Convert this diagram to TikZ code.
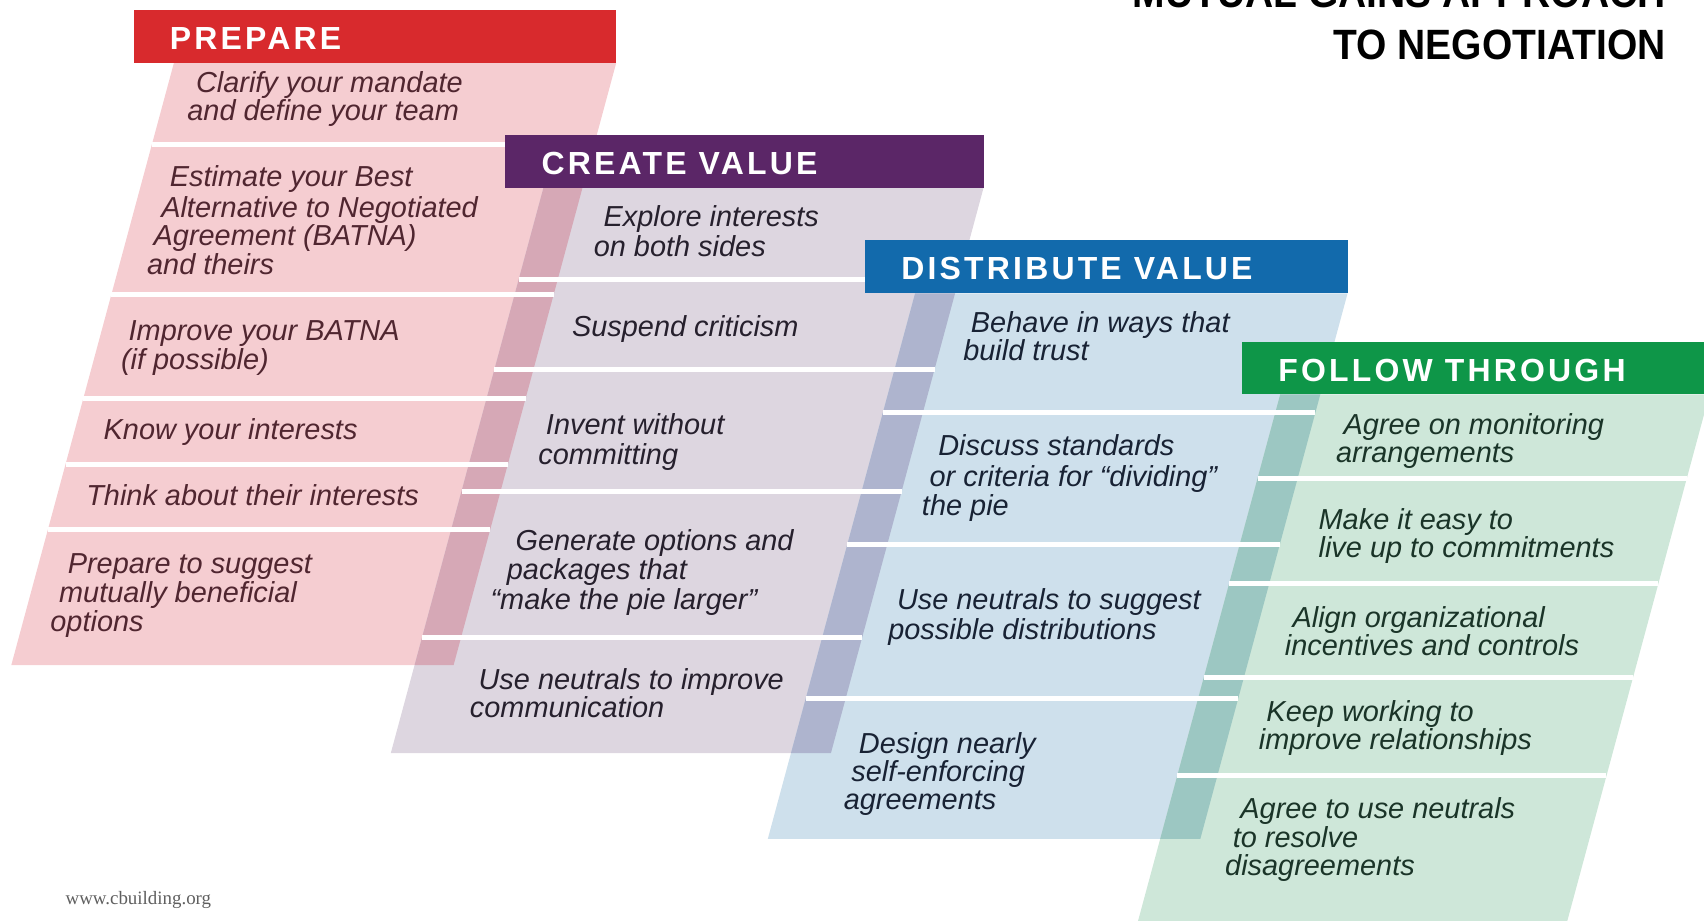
\documentclass[tikz,border=0pt]{standalone}
\usepackage{fontspec}
\setmainfont{Liberation Sans}
\newfontfamily\headfont{Liberation Sans}[LetterSpace=10]
\newfontfamily\urlfont{Liberation Serif}

% header and panel colours
\definecolor{prepHead}{RGB}{216,42,45}
\definecolor{createHead}{RGB}{91,38,103}
\definecolor{distHead}{RGB}{18,106,172}
\definecolor{followHead}{RGB}{14,150,72}
\definecolor{prepBody}{RGB}{245,205,209}
\definecolor{createBody}{RGB}{221,214,224}
\definecolor{distBody}{RGB}{206,224,236}
\definecolor{followBody}{RGB}{206,231,217}
\definecolor{prepCreate}{RGB}{214,168,182}
\definecolor{createDist}{RGB}{174,180,206}
\definecolor{distFollow}{RGB}{156,199,194}
\definecolor{prepText}{RGB}{80,38,48}
\definecolor{createText}{RGB}{38,32,45}
\definecolor{distText}{RGB}{24,34,52}
\definecolor{followText}{RGB}{26,52,40}
\definecolor{urlGrey}{RGB}{95,95,95}

% horizontal white divider across a slanted panel:
% #1 left x at top, #2 right x at top, #3 top y, #4 divider y
\newcommand\panelrule[4]{\draw[divider] ({#1-0.27*(#4-#3)},#4) -- ({#2-0.27*(#4-#3)},#4);}
% one line of step text: #1 colour, #2 name, #3 x, #4 y, #5 text
\newcommand\stepline[5]{\node[steptext,text=#1] (#2) at (#3,{#4+10}) {#5};}

\begin{document}
\begin{tikzpicture}[x=0.5pt,y=-0.5pt,
  headbar/.style={fill=#1,draw=none},
  headtext/.style={text=white,anchor=west,inner sep=0pt,
    font=\headfont\bfseries\fontsize{14.7}{16}\selectfont},
  steptext/.style={anchor=base west,inner sep=0pt,
    font=\itshape\fontsize{13.3}{13.3}\selectfont},
  divider/.style={white,line width=2.3pt}]

\useasboundingbox (0,0) rectangle (1568,847);
\clip (0,0) rectangle (1568,847);

% slanted panels
\fill[prepBody]   (160,58) -- (567,58) -- (417.4,612) -- (10.4,612) -- cycle;
\fill[createBody] (500,173) -- (905,173) -- (764.6,693) -- (359.6,693) -- cycle;
\fill[distBody]   (842,270) -- (1240,270) -- (1104.5,772) -- (706.5,772) -- cycle;
\fill[followBody] (1178,363) -- (1573,363) -- (1438.8,860) -- (1043.8,860) -- cycle;

% darker strips where neighbouring panels overlap
\begin{scope}
  \clip (160,58) -- (567,58) -- (417.4,612) -- (10.4,612) -- cycle;
  \fill[prepCreate] (500,173) -- (905,173) -- (764.6,693) -- (359.6,693) -- cycle;
\end{scope}
\begin{scope}
  \clip (500,173) -- (905,173) -- (764.6,693) -- (359.6,693) -- cycle;
  \fill[createDist] (842,270) -- (1240,270) -- (1104.5,772) -- (706.5,772) -- cycle;
\end{scope}
\begin{scope}
  \clip (842,270) -- (1240,270) -- (1104.5,772) -- (706.5,772) -- cycle;
  \fill[distFollow] (1178,363) -- (1573,363) -- (1438.8,860) -- (1043.8,860) -- cycle;
\end{scope}

% dividers between steps
\foreach \yy in {133,271,367,427,487} {\panelrule{160}{567}{58}{\yy}}
\foreach \yy in {257,340,452,587} {\panelrule{500}{905}{173}{\yy}}
\foreach \yy in {380,501,643} {\panelrule{842}{1240}{270}{\yy}}
\foreach \yy in {440,537,623,714} {\panelrule{1178}{1573}{363}{\yy}}

% phase headers
\fill[headbar=prepHead]   (123,9) rectangle (567,58);
\fill[headbar=createHead] (465,124) rectangle (905,173);
\fill[headbar=distHead]   (796,221) rectangle (1240,270);
\fill[headbar=followHead] (1143,315) rectangle (1580,363);
\node[headtext] (hprep)   at (156,35)  {PREPARE};
\node[headtext] (hcreate) at (498,150) {CREATE VALUE};
\node[headtext] (hdist)   at (829,247) {DISTRIBUTE VALUE};
\node[headtext] (hfollow) at (1176,341) {FOLLOW THROUGH};

% title
\node[anchor=base east,inner sep=0pt,font=\bfseries\fontsize{19.5}{20}\selectfont] (title1) at (1533,7)
  {\scalebox{0.92}[1]{MUTUAL GAINS APPROACH}};
\node[anchor=base east,inner sep=0pt,font=\bfseries\fontsize{19.5}{20}\selectfont] (title2) at (1533,55)
  {\scalebox{0.92}[1]{TO NEGOTIATION}};

% prepare
\stepline{prepText}{p1a}{180}{75}{Clarify your mandate}
\stepline{prepText}{p1b}{172}{101}{and define your team}
\stepline{prepText}{p2a}{156}{162}{Estimate your Best}
\stepline{prepText}{p2b}{148}{190}{Alternative to Negotiated}
\stepline{prepText}{p2c}{141}{216}{Agreement (BATNA)}
\stepline{prepText}{p2d}{135}{243}{and theirs}
\stepline{prepText}{p3a}{118}{303}{Improve your BATNA}
\stepline{prepText}{p3b}{111}{330}{(if possible)}
\stepline{prepText}{p4a}{95}{394}{Know your interests}
\stepline{prepText}{p5a}{79}{455}{Think about their interests}
\stepline{prepText}{p6a}{62}{518}{Prepare to suggest}
\stepline{prepText}{p6b}{54}{544}{mutually beneficial}
\stepline{prepText}{p6c}{46}{571}{options}

% create value
\stepline{createText}{c1a}{555}{198}{Explore interests}
\stepline{createText}{c1b}{546}{226}{on both sides}
\stepline{createText}{c2a}{526}{300}{Suspend criticism}
\stepline{createText}{c3a}{502}{390}{Invent without}
\stepline{createText}{c3b}{495}{417}{committing}
\stepline{createText}{c4a}{474}{497}{Generate options and}
\stepline{createText}{c4b}{466}{523}{packages that}
\stepline{createText}{c4c}{451}{551}{“make the pie larger”}
\stepline{createText}{c5a}{440}{624}{Use neutrals to improve}
\stepline{createText}{c5b}{432}{650}{communication}

% distribute value
\stepline{distText}{d1a}{893}{296}{Behave in ways that}
\stepline{distText}{d1b}{886}{322}{build trust}
\stepline{distText}{d2a}{863}{409}{Discuss standards}
\stepline{distText}{d2b}{855}{438}{or criteria for “dividing”}
\stepline{distText}{d2c}{848}{464}{the pie}
\stepline{distText}{d3a}{825}{551}{Use neutrals to suggest}
\stepline{distText}{d3b}{817}{578}{possible distributions}
\stepline{distText}{d4a}{790}{683}{Design nearly}
\stepline{distText}{d4b}{783}{709}{self-enforcing}
\stepline{distText}{d4c}{776}{735}{agreements}

% follow through
\stepline{followText}{f1a}{1236}{390}{Agree on monitoring}
\stepline{followText}{f1b}{1229}{416}{arrangements}
\stepline{followText}{f2a}{1213}{477}{Make it easy to}
\stepline{followText}{f2b}{1213}{503}{live up to commitments}
\stepline{followText}{f3a}{1189}{567}{Align organizational}
\stepline{followText}{f3b}{1182}{593}{incentives and controls}
\stepline{followText}{f4a}{1165}{654}{Keep working to}
\stepline{followText}{f4b}{1158}{680}{improve relationships}
\stepline{followText}{f5a}{1141}{743}{Agree to use neutrals}
\stepline{followText}{f5b}{1134}{770}{to resolve}
\stepline{followText}{f5c}{1127}{796}{disagreements}

% source line
\node[anchor=west,inner sep=0pt,text=urlGrey,font=\urlfont\fontsize{8.7}{9}\selectfont] (src) at (60,828) {www.cbuilding.org};

\end{tikzpicture}
\end{document}
